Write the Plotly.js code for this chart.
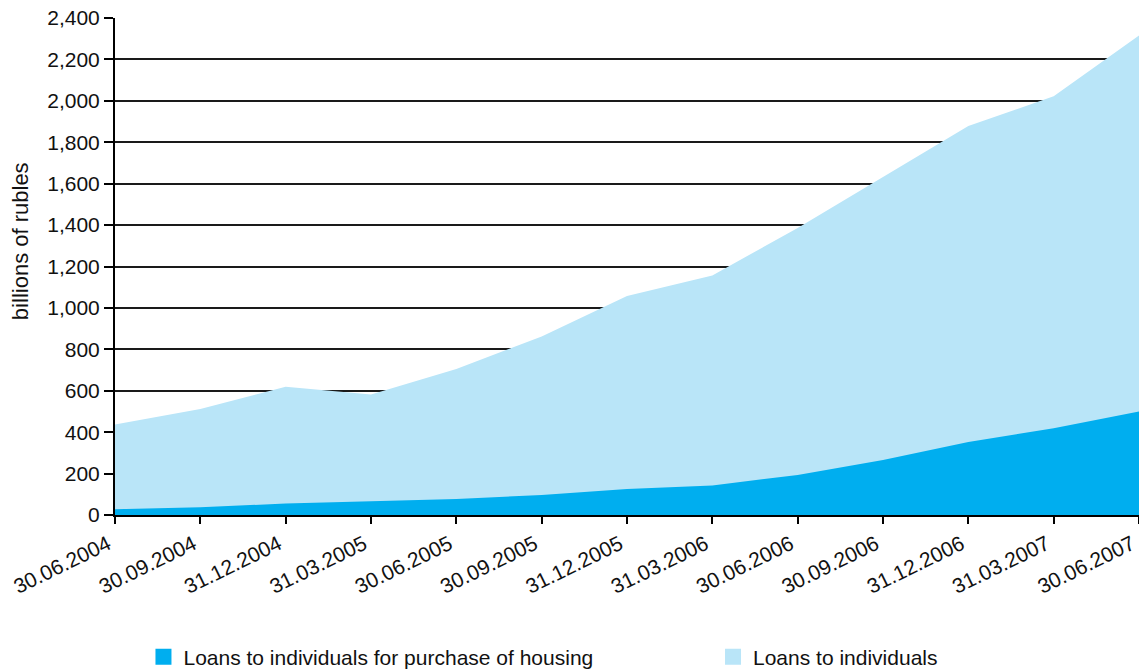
<!DOCTYPE html>
<html>
<head>
<meta charset="utf-8">
<script src="https://cdn.plot.ly/plotly-3.0.1.min.js"></script>
<style>
  html, body { margin: 0; padding: 0; background: #fff; }
  #chart { width: 1139px; height: 670px; }
</style>
</head>
<body>
<div id="chart"></div>
<script>
const dates = ["30.06.2004","30.09.2004","31.12.2004","31.03.2005","30.06.2005","30.09.2005",
               "31.12.2005","31.03.2006","30.06.2006","30.09.2006","31.12.2006","31.03.2007","30.06.2007"];
const loansIndividuals = [437, 512, 619, 582, 705, 862, 1058, 1157, 1386, 1630, 1878, 2022, 2315];
const loansHousing = [28, 38, 55, 66, 77, 97, 125, 143, 193, 266, 352, 419, 500];
const yTicks = [0, 200, 400, 600, 800, 1000, 1200, 1400, 1600, 1800, 2000, 2200, 2400];

const darkBlue = "#00AEEF";
const lightBlue = "#B9E5F8";
const FONT = "Liberation Sans, Arial, sans-serif";

const traces = [
  { type: "scatter", mode: "lines", x: dates, y: loansIndividuals, fill: "tozeroy",
    fillcolor: lightBlue, line: { width: 0, color: lightBlue }, showlegend: false,
    name: "Loans to individuals" },
  { type: "scatter", mode: "lines", x: dates, y: loansHousing, fill: "tozeroy",
    fillcolor: darkBlue, line: { width: 0, color: darkBlue }, showlegend: false,
    name: "Loans to individuals for purchase of housing" },
  { type: "scatter", mode: "markers", x: [null], y: [null], legend: "legend",
    name: "Loans to individuals for purchase of housing",
    marker: { symbol: "square", size: 16, color: darkBlue } },
  { type: "scatter", mode: "markers", x: [null], y: [null], legend: "legend2",
    name: "Loans to individuals",
    marker: { symbol: "square", size: 16, color: lightBlue } }
];

const legendBase = {
  orientation: "h", xanchor: "left", y: -0.2857, yanchor: "middle",
  font: { family: FONT, size: 21, color: "#111" },
  bgcolor: "rgba(0,0,0,0)", borderwidth: 0
};

const layout = {
  width: 1139, height: 670,
  margin: { l: 115, r: 0, t: 18, b: 155, autoexpand: false },
  paper_bgcolor: "#fff", plot_bgcolor: "#fff",
  font: { family: FONT, size: 20, color: "#111" },
  xaxis: {
    type: "category", range: [0, 12], automargin: false,
    showline: true, linecolor: "#000", linewidth: 2,
    ticks: "outside", ticklen: 7, tickcolor: "#000", tickwidth: 2,
    tickangle: -26, ticklabelshift: -7, ticklabelstandoff: 0,
    showgrid: false, zeroline: false,
    tickfont: { family: FONT, size: 21, color: "#111" }
  },
  yaxis: {
    range: [0, 2400], tickvals: yTicks, tickformat: ",d", automargin: false,
    showline: true, linecolor: "#000", linewidth: 2,
    ticks: "outside", ticklen: 9, tickcolor: "#000", tickwidth: 2,
    showgrid: true, gridcolor: "#1a1a1a", gridwidth: 2, zeroline: false,
    tickfont: { family: FONT, size: 21, color: "#111" }
  },
  annotations: [{
    text: "billions of rubles", xref: "paper", yref: "paper",
    x: -0.0928, y: 0.551, xanchor: "center", yanchor: "middle",
    textangle: -90, showarrow: false,
    font: { family: FONT, size: 22, color: "#111" }
  }],
  legend: Object.assign({}, legendBase, { x: 0.0278 }),
  legend2: Object.assign({}, legendBase, { x: 0.584 }),
  showlegend: true
};

Plotly.newPlot("chart", traces, layout, { displayModeBar: false, staticPlot: true });
</script>
</body>
</html>
